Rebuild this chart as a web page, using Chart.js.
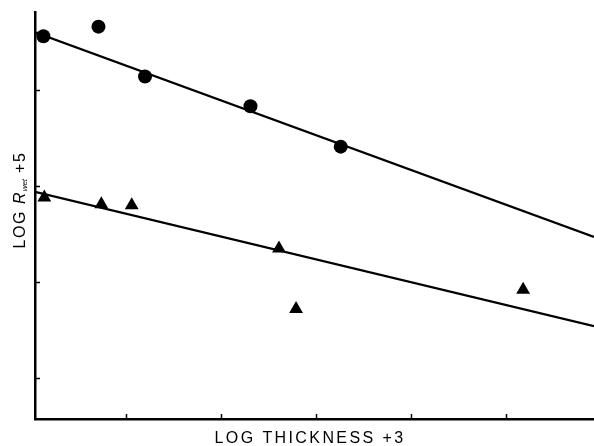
<!DOCTYPE html>
<html>
<head>
<meta charset="utf-8">
<script src="https://cdn.jsdelivr.net/npm/chart.js@4/dist/chart.umd.min.js"></script>
<style>
  html, body { margin: 0; padding: 0; background: #fff; }
  #wrap { width: 594px; height: 446px; }
</style>
</head>
<body>
<div id="wrap"><canvas id="chart" width="594" height="446"></canvas></div>
<script>
// values (x: log thickness units, y: log R units, ticks at whole numbers)
const circleX = [0.13, 0.71, 1.20, 2.31, 3.26];
const circleY = [4.56, 4.66, 4.14, 3.83, 3.41];

const triangleX = [0.14, 0.74, 1.06, 2.61, 2.79, 5.18];
const triangleY = [2.88, 2.81, 2.80, 2.35, 1.72, 1.92];

// fitted lines, end points only
const fitX = [0.042, 5.926];
const circleFitY = [4.60, 2.47];
const triangleFitY = [2.94, 1.54];

const xTicks = [1, 2, 3, 4, 5];
const yTicks = [1, 2, 3, 4];

const xTitle = "LOG THICKNESS +3";
const yTitle = ["LOG ", "R", "wet", " +5"];

const toPoints = (xs, ys) => xs.map((x, i) => ({ x: x, y: ys[i] }));

// short inward tick marks and the axis titles
const axisDecor = {
    id: 'axisDecor',
    afterDraw(chart) {
        const ctx = chart.ctx;
        const xs = chart.scales.x, ys = chart.scales.y;
        const area = chart.chartArea;
        ctx.save();
        ctx.strokeStyle = '#000';
        ctx.lineWidth = 1.5;
        ctx.beginPath();
        xTicks.forEach(v => {
            const px = Math.round(xs.getPixelForValue(v)) + 0.5;
            ctx.moveTo(px, area.bottom);
            ctx.lineTo(px, area.bottom - 5);
        });
        yTicks.forEach(v => {
            const py = Math.round(ys.getPixelForValue(v)) + 0.5;
            ctx.moveTo(area.left, py);
            ctx.lineTo(area.left + 5, py);
        });
        ctx.stroke();

        ctx.fillStyle = '#000';
        ctx.textBaseline = 'alphabetic';

        // x title
        ctx.font = '16px "Liberation Sans", Arial, sans-serif';
        ctx.letterSpacing = '2.4px';
        ctx.textAlign = 'center';
        ctx.fillText(xTitle, 310, 443);

        // y title with subscript
        ctx.translate(25, 200);
        ctx.rotate(-Math.PI / 2);
        ctx.textAlign = 'left';
        const fonts = [
            '16px "Liberation Sans", Arial, sans-serif',
            'italic 16px "Liberation Sans", Arial, sans-serif',
            'italic 8px "Liberation Sans", Arial, sans-serif',
            '16px "Liberation Sans", Arial, sans-serif'
        ];
        const spacing = ['1.6px', '1px', '0px', '1.6px'];
        const shift = [0, 0, 2, 0];
        let widths = yTitle.map((t, i) => {
            ctx.font = fonts[i];
            ctx.letterSpacing = spacing[i];
            return ctx.measureText(t).width;
        });
        const total = widths.reduce((a, b) => a + b, 0);
        let pos = -total / 2;
        yTitle.forEach((t, i) => {
            ctx.font = fonts[i];
            ctx.letterSpacing = spacing[i];
            ctx.fillText(t, pos, shift[i]);
            pos += widths[i];
        });
        ctx.restore();
    }
};

new Chart(document.getElementById('chart'), {
    type: 'scatter',
    data: {
        datasets: [
            {
                label: 'circles',
                data: toPoints(circleX, circleY),
                pointStyle: 'circle',
                pointRadius: 7,
                backgroundColor: '#000',
                borderColor: '#000',
                borderWidth: 0,
                clip: false
            },
            {
                label: 'triangles',
                data: toPoints(triangleX, triangleY),
                pointStyle: 'triangle',
                pointRadius: 8,
                backgroundColor: '#000',
                borderColor: '#000',
                borderWidth: 0,
                clip: false
            },
            {
                label: 'circle fit',
                data: toPoints(fitX, circleFitY),
                showLine: true,
                pointRadius: 0,
                borderColor: '#000',
                borderWidth: 2.2
            },
            {
                label: 'triangle fit',
                data: toPoints(fitX, triangleFitY),
                showLine: true,
                pointRadius: 0,
                borderColor: '#000',
                borderWidth: 2.2
            }
        ]
    },
    options: {
        responsive: false,
        animation: false,
        layout: { autoPadding: false, padding: { left: 35, top: 12, right: 0, bottom: 27 } },
        plugins: {
            legend: { display: false },
            tooltip: { enabled: false }
        },
        scales: {
            x: {
                type: 'linear',
                min: 0.042,
                max: 5.926,
                ticks: { display: false },
                grid: { drawOnChartArea: false, drawTicks: false },
                border: { display: true, color: '#000', width: 2.5 }
            },
            y: {
                type: 'linear',
                min: 0.573,
                max: 4.8125,
                ticks: { display: false },
                grid: { drawOnChartArea: false, drawTicks: false },
                border: { display: true, color: '#000', width: 2.5 }
            }
        }
    },
    plugins: [axisDecor]
});
</script>
</body>
</html>
